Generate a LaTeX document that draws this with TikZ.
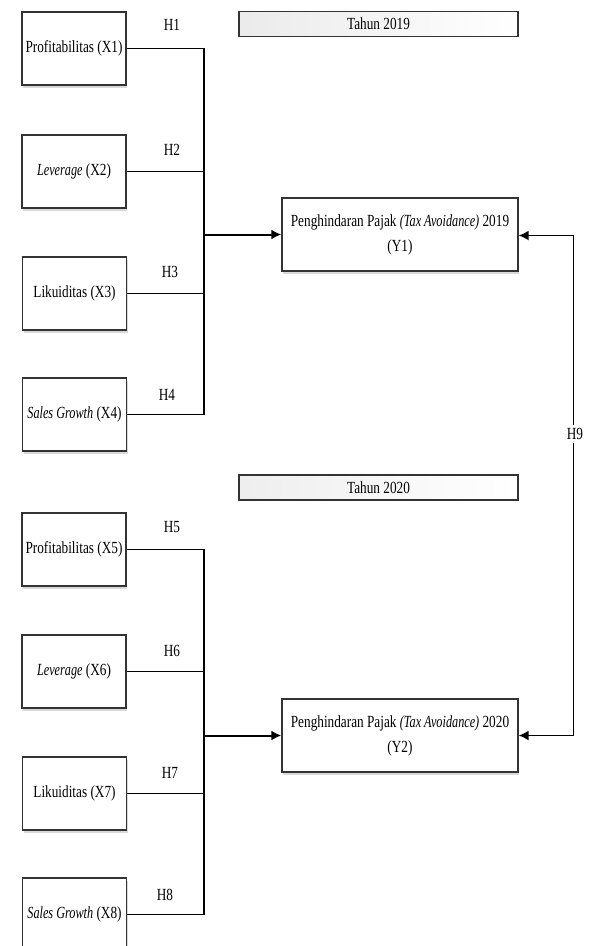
\documentclass[tikz,border=0pt]{standalone}
\usepackage{fontspec}
\setmainfont{Liberation Serif}[FakeStretch=0.78, ItalicFeatures={FakeStretch=0.72}]
\usetikzlibrary{shadows,arrows.meta}
\begin{document}
\begin{tikzpicture}[x=1pt,y=-1pt,
  font=\fontsize{17}{20}\selectfont,
  xbox/.style={draw=black!80, line width=1.3pt, fill=white, minimum width=104pt, minimum height=73pt, inner sep=1pt,
    drop shadow={shadow xshift=1pt, shadow yshift=-2.5pt, opacity=0.3}},
  ybox/.style={draw=black!80, line width=1.3pt, fill=white, minimum width=236pt, minimum height=73pt, inner sep=1pt, align=center,
    font=\fontsize{17}{25}\selectfont,
    drop shadow={shadow xshift=1pt, shadow yshift=-2.5pt, opacity=0.3}},
  banner/.style={draw=black!80, line width=1.3pt, minimum width=279pt, minimum height=25pt, inner sep=0pt},
  conn/.style={line width=1.3pt, black},
  arr/.style={line width=2pt, black, -{Latex[length=10pt,width=10pt]}},
  lbl/.style={inner sep=1pt}]
\useasboundingbox (0,0) rectangle (589,946);

% banners
\node[banner, left color=black!8, right color=white] (b1) at (378.5,24) {Tahun 2019};
\node[banner, left color=green!4!black!7, right color=white] (b2) at (378.5,487.5) {Tahun 2020};

% X boxes 2019
\node[xbox] (x1) at (74,48.5) {Profitabilitas (X1)};
\node[xbox] (x2) at (74,171.5) {\textit{Leverage} (X2)};
\node[xbox] (x3) at (74.5,293.5) {Likuiditas (X3)};
\node[xbox] (x4) at (74.5,414.5) {\textit{Sales Growth} (X4)};

% X boxes 2020
\node[xbox] (x5) at (74,549.5) {Profitabilitas (X5)};
\node[xbox] (x6) at (74,671.5) {\textit{Leverage} (X6)};
\node[xbox] (x7) at (74.5,793.5) {Likuiditas (X7)};
\node[xbox] (x8) at (74.5,914.5) {\textit{Sales Growth} (X8)};

% Y boxes
\node[ybox] (y1) at (400,234.5) {Penghindaran Pajak \textit{(Tax Avoidance)} 2019\\(Y1)};
\node[ybox] (y2) at (400,735.5) {Penghindaran Pajak \textit{(Tax Avoidance)} 2020\\(Y2)};

% junction coordinates
\coordinate (a1) at (204,48.5);
\coordinate (a4) at (204,414.5);
\coordinate (a5) at (204,549.5);
\coordinate (a8) at (204,914.5);

% 2019 connectors
\draw[conn] (x1.east) -- (a1) -- (a4) -- (x4.east);
\draw[conn] (x2.east) -- (x2.east -| a1);
\draw[conn] (x3.east) -- (x3.east -| a1);
\draw[arr] (a1 |- y1.west) -- (y1.west);

% 2020 connectors
\draw[conn] (x5.east) -- (a5) -- (a8) -- (x8.east);
\draw[conn] (x6.east) -- (x6.east -| a5);
\draw[conn] (x7.east) -- (x7.east -| a5);
\draw[arr] (a5 |- y2.west) -- (y2.west);

% H9 connector
\coordinate (r1) at (573.5,235.5);
\coordinate (r2) at (573.5,735.5);
\draw[line width=1.5pt, {Latex[length=10pt,width=10pt]}-{Latex[length=10pt,width=10pt]}] (y1.east |- r1) -- (r1) -- (r2) -- (y2.east |- r2);
\node[lbl, fill=white, inner sep=3pt] (h9) at (575,434) {H9};

% labels
\node[lbl] (h1) at (172,25) {H1};
\node[lbl] (h2) at (172,150) {H2};
\node[lbl] (h3) at (170,272) {H3};
\node[lbl] (h4) at (167,395) {H4};
\node[lbl] (h5) at (172,527) {H5};
\node[lbl] (h6) at (172,651) {H6};
\node[lbl] (h7) at (170,773) {H7};
\node[lbl] (h8) at (165,895) {H8};
\end{tikzpicture}
\end{document}
